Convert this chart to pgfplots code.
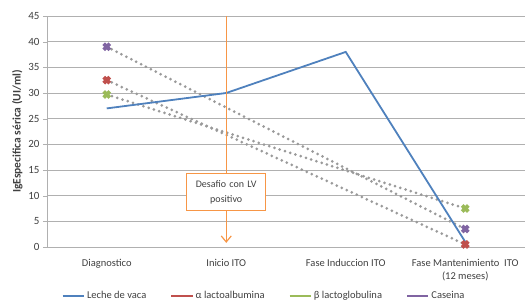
\documentclass[border=0pt]{standalone}
\usepackage{pgfplots}
\pgfplotsset{compat=1.18}
\usepackage{fontspec}
\setmainfont{Carlito}
\usetikzlibrary{arrows.meta}
\definecolor{cblue}{HTML}{4F81BD}
\definecolor{cred}{HTML}{C0504D}
\definecolor{cgreen}{HTML}{9BBB59}
\definecolor{cpurple}{HTML}{8064A2}
\definecolor{corange}{HTML}{F79646}
\definecolor{cgrid}{HTML}{B0B0B0}
\definecolor{ctext}{HTML}{404040}
\definecolor{cdot}{HTML}{9A9A9A}
\begin{document}
\begin{tikzpicture}
\begin{axis}[
  scale only axis, width=478pt, height=231pt,
  xmin=-0.5, xmax=3.5, ymin=0, ymax=45,
  axis lines*=left,
  axis line style={cgrid},
  ytick={0,5,...,45},
  ymajorgrids, grid style={cgrid, line width=0.6pt},
  xtick={0,1,2,3},
  xticklabels={Diagnostico, Inicio ITO, Fase Induccion ITO, {Fase Mantenimiento\ \ ITO\\(12 meses)}},
  xticklabel style={align=center, text=ctext, font=\fontsize{10.5}{12.5}\selectfont, yshift=-5pt},
  major x tick style={draw=none},
  extra x ticks={0.5,1.5,2.5},
  extra x tick labels={},
  extra x tick style={major tick length=4pt, tick style={cgrid}, grid=none},
  tick align=outside,
  major tick length=4pt,
  y tick style={cgrid},
  yticklabel style={text=ctext, font=\fontsize{11}{12}\selectfont},
  /pgf/number format/assume math mode=true,
  ylabel={\textbf{IgEspecifica sérica (UI/ml)}},
  ylabel style={text=ctext, font=\fontsize{11.5}{12}\selectfont, yshift=-1pt},
  legend style={draw=none, fill=none, at={(0.454,-0.212)}, anchor=center,
    legend columns=4, font=\fontsize{10.5}{12}\selectfont, text=ctext,
    /tikz/every even column/.append style={column sep=22pt}},
]
% gray dotted connecting lines
\addplot[forget plot, cdot, line width=3pt, line cap=round, dash pattern=on 0pt off 5.5pt] coordinates {(0,32.5) (3,0.5)};
\addplot[forget plot, cdot, line width=3pt, line cap=round, dash pattern=on 0pt off 5.5pt] coordinates {(0,29.7) (3,7.5)};
\addplot[forget plot, cdot, line width=3pt, line cap=round, dash pattern=on 0pt off 5.5pt] coordinates {(0,39) (3,3.5)};
% Leche de vaca
\addplot[cblue, line width=1.8pt, no markers,
  legend image code/.code={\draw[cblue, line width=2pt] (0,0) -- (0.75cm,0);}] coordinates {(0,27) (1,30) (2,38) (3,1)};
\addlegendentry{Leche de vaca}
% markers
\addplot[forget plot, only marks, mark=x, mark size=4.3pt, line width=3.8pt, cred] coordinates {(0,32.5) (3,0.5)};
\addplot[forget plot, only marks, mark=x, mark size=4.3pt, line width=3.8pt, cgreen] coordinates {(0,29.7) (3,7.5)};
\addplot[forget plot, only marks, mark=x, mark size=4.3pt, line width=3.8pt, cpurple] coordinates {(0,39) (3,3.5)};
\addlegendimage{legend image code/.code={\draw[cred, line width=2pt] (0,0) -- (0.75cm,0);}}
\addlegendentry{α lactoalbumina}
\addlegendimage{legend image code/.code={\draw[cgreen, line width=2pt] (0,0) -- (0.75cm,0);}}
\addlegendentry{β lactoglobulina}
\addlegendimage{legend image code/.code={\draw[cpurple, line width=2pt] (0,0) -- (0.75cm,0);}}
\addlegendentry{Caseina}
% annotation arrow and box
\draw[corange, line width=1.2pt, -{Straight Barb[length=6pt, width=10pt]}] (axis cs:1,45) -- (axis cs:1,0.8);
\node[draw=corange, fill=white, line width=0.9pt, align=center, text=ctext,
  text width=72pt, minimum height=37pt, font=\fontsize{10}{15}\selectfont]
  at (axis cs:1,10.7) {Desafio con LV\\positivo};
\end{axis}
\pgfresetboundingbox
\useasboundingbox (current axis.south west) ++(-47pt,-58pt) rectangle ([shift={(2pt,16pt)}]current axis.north east);
\end{tikzpicture}
\end{document}
